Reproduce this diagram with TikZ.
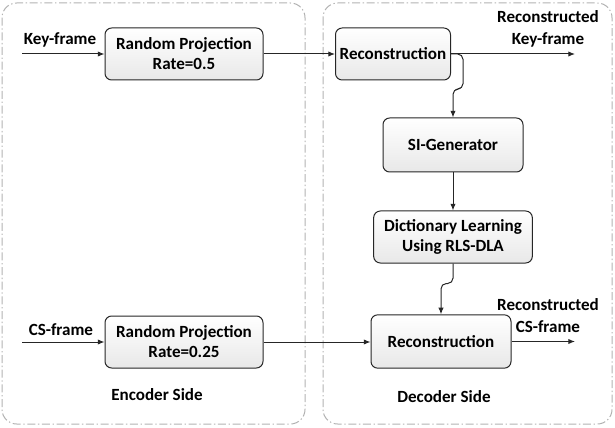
\documentclass[tikz,border=0pt]{standalone}
\usepackage{fontspec}
\setmainfont{Carlito}
\usetikzlibrary{arrows.meta}

\tikzset{every picture/.style={line width=0.75pt}}
\tikzset{
  blk/.style={draw=black!85, rounded corners=5pt, top color=white, bottom color=black!9,
    align=center, font=\bfseries\fontsize{12.8}{15}\selectfont, inner sep=2pt},
  lbl/.style={align=center, font=\bfseries\fontsize{12.8}{16.5}\selectfont},
  side/.style={draw=black!30, rounded corners=11pt, dash pattern={on 6pt off 2pt on 1pt off 2pt}},
  arr/.style={draw=black!85, -{Latex[length=5pt,width=4pt]}},
}

\begin{document}
\begin{tikzpicture}[x=0.75pt,y=0.75pt,yscale=-1,xscale=1]
	\useasboundingbox (0,0) rectangle (615,428);

	%Shape: Encoder / Decoder panels
	\draw [side] (2,3) rectangle (305,424) ;
	\draw [side] (323,3) rectangle (612,424) ;

	% Blocks
	\node [blk, minimum width=118.5pt, minimum height=39pt] (rp1) at (184,54) {Random Projection\\Rate=0.5};
	\node [blk, minimum width=118.5pt, minimum height=39pt] (rp2) at (184,342) {Random Projection\\Rate=0.25};
	\node [blk, minimum width=86.25pt, minimum height=39pt] (rec1) at (393,54) {Reconstruction};
	\node [blk, minimum width=105pt, minimum height=40.5pt] (sigen) at (453,145) {SI-Generator};
	\node [blk, minimum width=119pt, minimum height=39pt] (dla) at (453,237) {Dictionary Learning\\Using RLS-DLA};
	\node [blk, minimum width=105pt, minimum height=40pt] (rec2) at (441,341.5) {Reconstruction};

	% Text Node
	\node [lbl] (kf) at (60,40) {Key-frame};
	\node [lbl] (csf) at (61,330) {CS-frame};
	\node [lbl] (rkf) at (548,29) {Reconstructed\\Key-frame};
	\node [lbl] (rcsf) at (548,316) {Reconstructed\\CS-frame};
	\node [lbl] (enc) at (157,395) {Encoder Side};
	\node [lbl] (dec) at (444,397) {Decoder Side};

	% Free ends
	\coordinate (kin) at (22,54);
	\coordinate (csin) at (22,342);
	\coordinate (kout) at (575,54);
	\coordinate (csout) at (575,342);

	% Connectors
	\draw [arr] (kin) -- (rp1) ;
	\draw [arr] (csin) -- (rp2) ;
	\draw [arr] (rp1) -- (rec1) ;
	\draw [arr] (rp2.east) -- (rec2.west |- rp2.east) ;
	\draw [arr] (rec1) -- (kout) ;
	\draw [arr] (rec2.east) -- (csout |- rec2.east) ;
	\draw [arr, rounded corners=4pt] (rec1.east) -- ++(12,0) -- ++(0,35) -| (sigen.north) ;
	\draw [arr] (sigen) -- (dla) ;
	\draw [arr, rounded corners=4pt] (dla.south) -- ++(0,20) -| (rec2.north) ;

\end{tikzpicture}
\end{document}
